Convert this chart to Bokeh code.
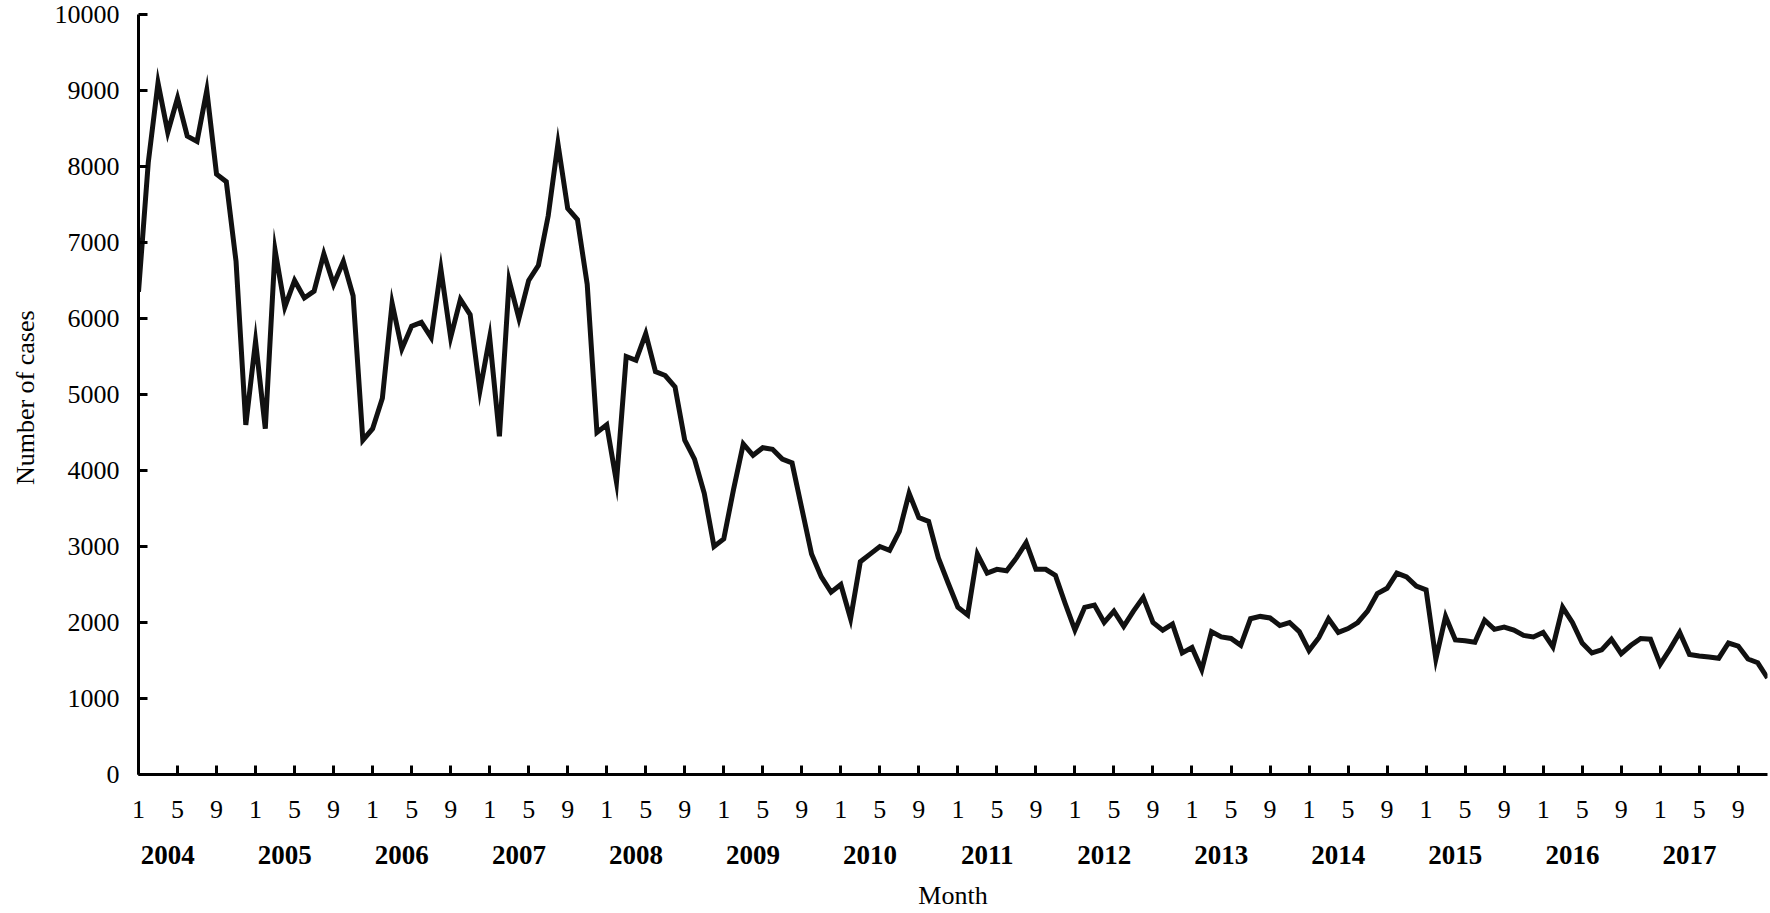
from bokeh.plotting import figure
from bokeh.models import LinearAxis, FixedTicker, Range1d
from bokeh.embed import file_html
from bokeh.resources import INLINE

# ---- data ----
years = list(range(2004, 2018))
month_tick_labels = ["1", "5", "9"]
y_ticks = list(range(0, 10001, 1000))
cases = [
    6350, 8050, 9100, 8450, 8900, 8400, 8330, 9000, 7900, 7800, 6750, 4600,   # 2004
    5700, 4550, 6900, 6150, 6500, 6270, 6360, 6850, 6450, 6750, 6300, 4400,   # 2005
    4550, 4950, 6200, 5600, 5900, 5950, 5750, 6650, 5750, 6250, 6050, 5050,   # 2006
    5750, 4450, 6500, 6000, 6500, 6700, 7350, 8300, 7450, 7300, 6450, 4500,   # 2007
    4600, 3850, 5500, 5450, 5800, 5300, 5250, 5100, 4400, 4150, 3700, 3000,   # 2008
    3100, 3750, 4350, 4200, 4300, 4280, 4150, 4100, 3500, 2900, 2600, 2400,   # 2009
    2500, 2050, 2800, 2900, 3000, 2950, 3200, 3700, 3380, 3330, 2850, 2520,   # 2010
    2200, 2100, 2900, 2650, 2700, 2680, 2850, 3050, 2700, 2700, 2620, 2250,   # 2011
    1900, 2200, 2230, 2000, 2150, 1950, 2150, 2330, 2000, 1900, 1980, 1600,   # 2012
    1670, 1380, 1880, 1810, 1790, 1700, 2050, 2080, 2060, 1960, 2000, 1880,   # 2013
    1630, 1800, 2050, 1870, 1920, 2000, 2150, 2380, 2450, 2650, 2600, 2480,   # 2014
    2430, 1520, 2080, 1770, 1760, 1740, 2030, 1910, 1940, 1900, 1830, 1810,   # 2015
    1870, 1680, 2200, 2000, 1730, 1600, 1640, 1780, 1590, 1700, 1790, 1780,   # 2016
    1450, 1650, 1870, 1580, 1560, 1545, 1530, 1730, 1690, 1520, 1470, 1270,   # 2017
]

months = list(range(len(cases)))
FONT = "Liberation Serif"
FS = "26px"

p = figure(width=1770, height=912, output_backend="svg", toolbar_location=None,
           x_range=Range1d(0, len(cases) - 1), y_range=Range1d(0, 10000),
           min_border_left=138, min_border_right=3, min_border_top=14,
           min_border_bottom=138, x_axis_type=None)
p.outline_line_color = None
p.grid.visible = False
p.background_fill_color = "white"
p.border_fill_color = "white"

p.line(months, cases, line_width=5, line_color="#111111", line_join="miter")

# y axis
ya = p.yaxis[0]
ya.ticker = FixedTicker(ticks=y_ticks)
ya.minor_tick_line_color = None
ya.major_tick_in = 9
ya.major_tick_out = 0
ya.major_tick_line_width = 3
ya.axis_line_width = 3
ya.axis_line_color = "black"
ya.major_tick_line_color = "black"
ya.major_label_text_font = FONT
ya.major_label_text_font_size = FS
ya.major_label_text_color = "black"
ya.major_label_standoff = 19
ya.axis_label = "Number  of cases"
ya.axis_label_text_font = FONT
ya.axis_label_text_font_size = FS
ya.axis_label_text_font_style = "normal"
ya.axis_label_text_color = "black"
ya.axis_label_standoff = 12

# month axis
m_ticks = list(range(0, len(cases), 4))
m_over = {t: month_tick_labels[i % 3] for i, t in enumerate(m_ticks)}
xa = LinearAxis(ticker=FixedTicker(ticks=m_ticks), major_label_overrides=m_over)
xa.minor_tick_line_color = None
xa.major_tick_in = 9
xa.major_tick_out = 0
xa.major_tick_line_width = 3
xa.axis_line_width = 3
xa.axis_line_color = "black"
xa.major_tick_line_color = "black"
xa.major_label_text_font = FONT
xa.major_label_text_font_size = FS
xa.major_label_text_color = "black"
xa.major_label_standoff = 26
p.add_layout(xa, "below")

# year axis
y_pos = [12 * i + 3 for i in range(len(years))]
y_over = {t: str(y) for t, y in zip(y_pos, years)}
xa2 = LinearAxis(ticker=FixedTicker(ticks=y_pos), major_label_overrides=y_over)
xa2.axis_line_color = None
xa2.major_tick_line_color = None
xa2.minor_tick_line_color = None
xa2.major_label_text_font = FONT
xa2.major_label_text_font_size = "27px"
xa2.major_label_text_font_style = "bold"
xa2.major_label_text_color = "black"
xa2.major_label_standoff = 19
xa2.axis_label = "Month"
xa2.axis_label_text_font = FONT
xa2.axis_label_text_font_size = FS
xa2.axis_label_text_font_style = "normal"
xa2.axis_label_text_color = "black"
xa2.axis_label_standoff = 14
p.add_layout(xa2, "below")

open("out.html", "w").write(file_html(p, INLINE))
